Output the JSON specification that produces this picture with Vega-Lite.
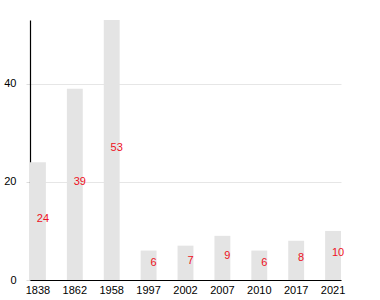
{
  "$schema": "https://vega.github.io/schema/vega-lite/v6.json",
  "width": 311,
  "height": 260,
  "autosize": "none",
  "padding": {"left": 30, "top": 20, "right": 39, "bottom": 20},
  "background": "white",
  "config": {"view": {"stroke": null}, "font": "Liberation Sans"},
  "data": {"values": [
    {"year": "1838", "value": 24},
    {"year": "1862", "value": 39},
    {"year": "1958", "value": 53},
    {"year": "1997", "value": 6},
    {"year": "2002", "value": 7},
    {"year": "2007", "value": 9},
    {"year": "2010", "value": 6},
    {"year": "2017", "value": 8},
    {"year": "2021", "value": 10}
  ]},
  "encoding": {
    "x": {"field": "year", "type": "nominal", "sort": null,
      "scale": {"paddingInner": 0.57, "paddingOuter": 0},
      "axis": {"title": null, "labelAngle": 0, "ticks": false, "labelPadding": 4, "labelFontSize": 11, "labelColor": "#000", "domainColor": "#000", "domainWidth": 1.2, "grid": false}}
  },
  "layer": [
    {
      "mark": {"type": "bar", "color": "#e4e4e4"},
      "encoding": {
        "y": {"field": "value", "type": "quantitative",
          "scale": {"domain": [0, 53], "nice": false},
          "axis": {"title": null, "values": [0, 20, 40], "tickSize": 4, "tickColor": "#ddd", "labelPadding": 10, "labelFontSize": 11, "labelColor": "#000", "domainColor": "#000", "domainWidth": 1.2, "gridColor": "#e6e6e6"}}
      }
    },
    {
      "transform": [{"calculate": "datum.value / 2", "as": "mid"}],
      "mark": {"type": "text", "color": "#ee1122", "fontSize": 11, "dx": 5, "dy": -2},
      "encoding": {
        "y": {"field": "mid", "type": "quantitative"},
        "text": {"field": "value", "type": "quantitative"}
      }
    }
  ]
}
